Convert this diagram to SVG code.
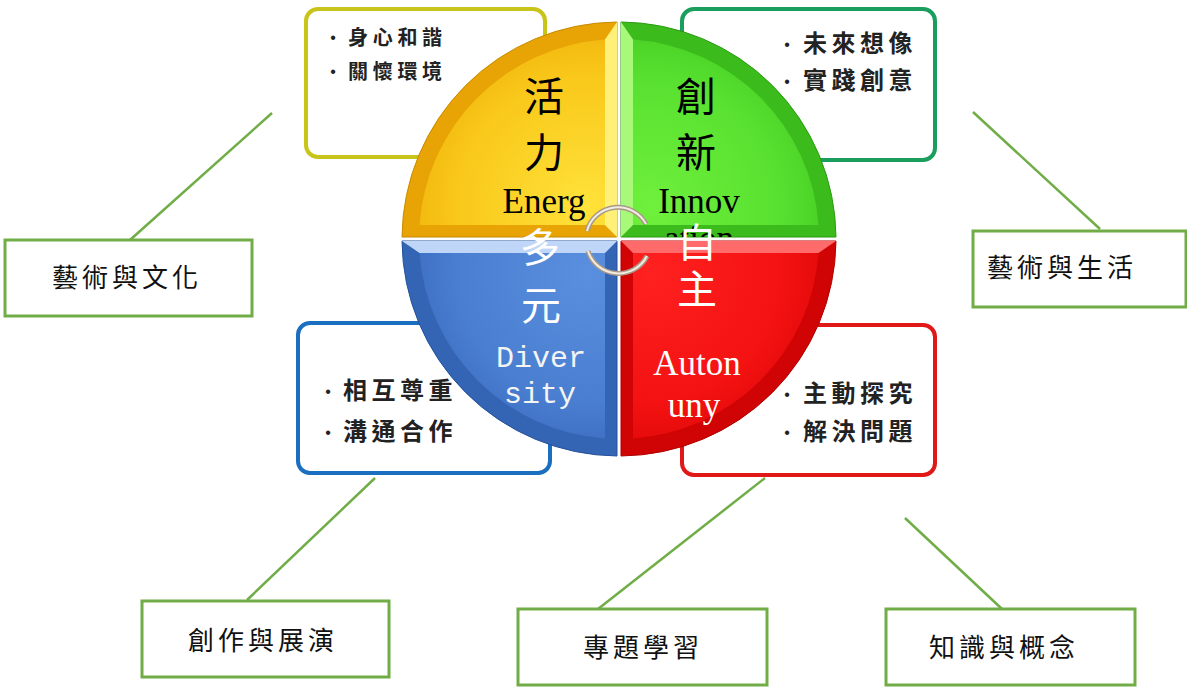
<svg xmlns="http://www.w3.org/2000/svg" width="1187" height="687" viewBox="0 0 1187 687">
<defs>
<style>
.lbl{fill:#fff;stroke:#70ad47;stroke-width:3}
.lt{font-family:"Noto Sans CJK TC","Noto Sans CJK SC",sans-serif;font-size:26px;letter-spacing:4px;fill:#111}
.bt{font-family:"Noto Sans CJK TC","Noto Sans CJK SC",sans-serif;font-size:24px;letter-spacing:4.5px;fill:#222;font-weight:bold}
.bts{font-size:20px;letter-spacing:4.7px}
.bu{font-family:"Liberation Sans",sans-serif;font-size:16px;fill:#222;text-anchor:middle}
.cj{font-family:"Noto Sans CJK TC","Noto Sans CJK SC",sans-serif;font-size:40px;text-anchor:middle}
.en{font-family:"Liberation Serif",serif;font-size:35px;text-anchor:middle}
.mono{font-family:"Liberation Mono",monospace;font-size:30px;text-anchor:middle}
.conn line{stroke:#70ad47;stroke-width:2.5}
</style>
<radialGradient id="gy" cx="0.9" cy="0.9" r="1"><stop offset="0" stop-color="#ffe23a"/><stop offset="0.7" stop-color="#f9c81a"/><stop offset="1" stop-color="#f0b40c"/></radialGradient>
<radialGradient id="gg" cx="0.1" cy="0.9" r="1"><stop offset="0" stop-color="#6ff03c"/><stop offset="0.7" stop-color="#58e030"/><stop offset="1" stop-color="#44cc22"/></radialGradient>
<radialGradient id="gb" cx="0.9" cy="0.1" r="1"><stop offset="0" stop-color="#5a8ede"/><stop offset="0.7" stop-color="#4a7ed0"/><stop offset="1" stop-color="#3a6cc0"/></radialGradient>
<radialGradient id="gr" cx="0.1" cy="0.1" r="1"><stop offset="0" stop-color="#ff2020"/><stop offset="0.7" stop-color="#f41212"/><stop offset="1" stop-color="#e00808"/></radialGradient>
<clipPath id="cg"><path d="M621,22 L621,237 L836,237 L836,0 Z"/></clipPath>
</defs>
<rect width="1187" height="687" fill="#fff"/>

<g id="conn" class="conn">
<line x1="130" y1="240" x2="272" y2="113"/>
<line x1="1100" y1="229" x2="973" y2="112"/>
<line x1="247" y1="600" x2="375" y2="478"/>
<line x1="598" y1="609" x2="765" y2="478"/>
<line x1="1002" y1="609" x2="905" y2="518"/>
</g>

<g id="box-yellow">
<rect x="306" y="9" width="239" height="148" rx="12" fill="#fff" stroke="#c8c41a" stroke-width="4"/>
<text class="bu" x="333" y="43">•</text>
<text class="bu" x="333" y="77">•</text>
<text class="bt bts" x="348" y="45">身心和諧</text>
<text class="bt bts" x="348" y="79">關懷環境</text>
</g>
<g id="box-green">
<rect x="682" y="9" width="253" height="151" rx="12" fill="#fff" stroke="#1a9e5e" stroke-width="4"/>
<text class="bu" x="787" y="50">•</text>
<text class="bu" x="787" y="87">•</text>
<text class="bt" x="803" y="52">未來想像</text>
<text class="bt" x="803" y="89">實踐創意</text>
</g>
<g id="box-blue">
<rect x="298" y="323" width="252" height="150" rx="12" fill="#fff" stroke="#1a6fc0" stroke-width="4"/>
<text class="bu" x="328" y="397">•</text>
<text class="bu" x="328" y="438">•</text>
<text class="bt" x="343" y="399">相互尊重</text>
<text class="bt" x="343" y="440">溝通合作</text>
</g>
<g id="box-red">
<rect x="682" y="325" width="253" height="150" rx="12" fill="#fff" stroke="#e01818" stroke-width="4"/>
<text class="bu" x="787" y="400">•</text>
<text class="bu" x="787" y="438">•</text>
<text class="bt" x="803" y="402">主動探究</text>
<text class="bt" x="803" y="440">解決問題</text>
</g>

<g id="q-yellow">
<path d="M617,237 L617,22 A217 217 0 0 0 402,237 Z" fill="#e8a404" stroke="#c88a00" stroke-width="1"/>
<path d="M605,225 L617,237 L617,22 L605,39.5 Z" fill="#fff07a"/>
<path d="M605,225 L605,39.5 A200 200 0 0 0 419.5,225 Z" fill="url(#gy)"/>
<text class="cj" x="544" y="111">活</text>
<text class="cj" x="544" y="167">力</text>
<text class="en" x="544" y="213">Energ</text>
</g>
<g id="q-green">
<path d="M621,237 L836,237 A217 217 0 0 0 621,22 Z" fill="#3cbc1c" stroke="#2a9a10" stroke-width="1"/>
<path d="M621,22 L621,237 L633,225 L633,39.5 Z" fill="#a8f87a"/>
<path d="M633,225 L818.5,225 A200 200 0 0 0 633,39.5 Z" fill="url(#gg)"/>
<text class="cj" x="696" y="111">創</text>
<text class="cj" x="696" y="167">新</text>
<text class="en" x="699" y="213">Innov</text>
<text class="en" x="699" y="250" clip-path="url(#cg)">ation</text>
</g>
<g id="q-blue">
<path d="M617,241 L402,241 A217 217 0 0 0 617,456 Z" fill="#3464b4" stroke="#24509a" stroke-width="1"/>
<path d="M402,241 L617,241 L605,253 L419.5,253 Z" fill="#c0d6f8"/>
<path d="M605,253 L419.5,253 A200 200 0 0 0 605,438.5 Z" fill="url(#gb)"/>
<text class="cj" x="540" y="262" fill="#fff">多</text>
<text class="cj" x="541" y="320" fill="#fff">元</text>
<text class="mono" x="541" y="367" fill="#f4f4f4">Diver</text>
<text class="mono" x="540" y="403" fill="#f4f4f4">sity</text>
</g>
<g id="q-red">
<path d="M621,241 L621,456 A217 217 0 0 0 836,241 Z" fill="#d00404" stroke="#b00000" stroke-width="1"/>
<path d="M621,241 L836,241 L818.5,253 L633,253 Z" fill="#ff6a6a"/>
<path d="M633,253 L633,438.5 A200 200 0 0 0 818.5,253 Z" fill="url(#gr)"/>
<text class="cj" x="697" y="257" fill="#fff">自</text>
<text class="cj" x="697" y="304" fill="#fff">主</text>
<text class="en" x="697" y="375" fill="#fff">Auton</text>
<text class="en" x="694" y="417" fill="#fff">uny</text>
</g>

<g id="cycle" fill="none">
<path d="M587,231 A32 32 0 0 1 646,224" stroke="#a89a86" stroke-width="5"/>
<path d="M587,231 A32 32 0 0 1 646,224" stroke="#f2ece2" stroke-width="2"/>
<path d="M647,256 A32 32 0 0 1 588,251" stroke="#a89a86" stroke-width="5"/>
<path d="M647,256 A32 32 0 0 1 588,251" stroke="#f2ece2" stroke-width="2"/>
</g>

<g id="label-culture">
<rect class="lbl" x="5" y="240" width="247" height="76"/>
<text class="lt" x="52" y="287">藝術與文化</text>
</g>
<g id="label-life">
<rect class="lbl" x="973" y="231" width="213" height="76"/>
<text class="lt" x="987" y="277">藝術與生活</text>
</g>
<g id="label-create">
<rect class="lbl" x="142" y="601" width="247" height="76"/>
<text class="lt" x="188" y="650">創作與展演</text>
</g>
<g id="label-project">
<rect class="lbl" x="518" y="609" width="249" height="76"/>
<text class="lt" x="583" y="657">專題學習</text>
</g>
<g id="label-knowledge">
<rect class="lbl" x="886" y="609" width="249" height="76"/>
<text class="lt" x="929" y="657">知識與概念</text>
</g>
</svg>
